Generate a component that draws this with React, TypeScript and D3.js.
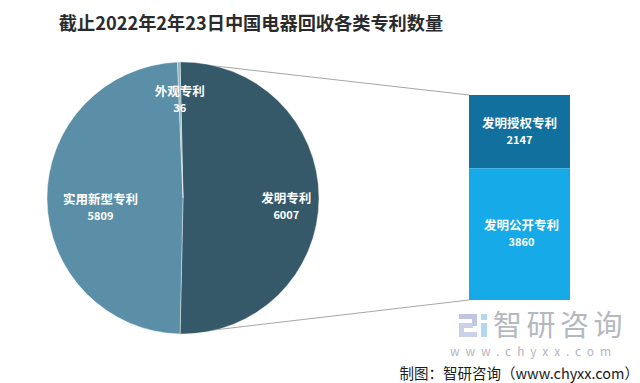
import React from "react";
import * as d3 from "d3";

const pieCategories = ["发明专利", "实用新型专利", "外观专利"];
const pieValues = [6007, 5809, 36];
const barCategories = ["发明授权专利", "发明公开专利"];
const barValues = [2147, 3860];
const title = "截止2022年2年23日中国电器回收各类专利数量";
const source = "制图：智研咨询（www.chyxx.com）";

const W = 640;
const H = 383;
const FONT = "'Noto Sans CJK SC', 'Noto Sans', sans-serif";

export default function App() {
  const cx = 183;
  const cy = 198;
  const r = 136;
  const total = d3.sum(pieValues);
  const firstAngle = (2 * Math.PI * pieValues[0]) / total;
  const start = Math.PI / 2 - firstAngle / 2;
  const pie = d3
    .pie<number>()
    .sort(null)
    .value((d) => d)
    .startAngle(start)
    .endAngle(start + 2 * Math.PI);
  const arcs = pie(pieValues);
  const arcGen = d3.arc<d3.PieArcDatum<number>>().innerRadius(0).outerRadius(r);
  const pieColors = ["#36596a", "#5b8fa7", "#8db3c4"];
  const labelR = [0.76, 0.68, 0.79];

  const barX0 = 469;
  const barX1 = 570;
  const barTop = 95;
  const barBottom = 300;
  const y = d3.scaleLinear().domain([0, d3.sum(barValues)]).range([barTop, barBottom]);
  const barColors = ["#12709e", "#16aae8"];
  let acc = 0;
  const bars = barValues.map((v, i) => {
    const y0 = y(acc);
    acc += v;
    const y1 = y(acc);
    return { v, i, y0, y1 };
  });

  const a0 = arcs[0].startAngle;
  const a1 = arcs[0].endAngle;
  const p0 = [cx + r * Math.sin(a0), cy - r * Math.cos(a0)];
  const p1 = [cx + r * Math.sin(a1), cy - r * Math.cos(a1)];

  return (
    <svg
      width={W}
      height={H}
      style={{ position: "absolute", left: 0, top: 0, background: "#fff" }}
      fontFamily={FONT}
    >
      <rect width={W} height={H} fill="#ffffff" />
      <text x={251} y={30} textAnchor="middle" fontSize={18.2} fontWeight="bold" fill="#2b2b2b">
        {title}
      </text>

      <line x1={p0[0]} y1={p0[1]} x2={barX0} y2={barTop} stroke="#a6a6a6" strokeWidth={1} />
      <line x1={p1[0]} y1={p1[1]} x2={barX0} y2={barBottom} stroke="#a6a6a6" strokeWidth={1} />

      <g transform={`translate(${cx},${cy})`}>
        {arcs.map((a, i) => (
          <path key={i} d={arcGen(a) || ""} fill={pieColors[i]} stroke="#ffffff" strokeWidth={0.4} />
        ))}
        {arcs.map((a, i) => {
          const mid = (a.startAngle + a.endAngle) / 2;
          const R = r * labelR[i];
          const lx = R * Math.sin(mid) + (i === 1 ? 10 : 0);
          const ly = -R * Math.cos(mid);
          return (
            <g key={"l" + i} fill="#ffffff" fontWeight="bold" textAnchor="middle">
              <text x={lx} y={ly + 5} fontSize={12.5}>
                {pieCategories[i]}
              </text>
              <text x={lx} y={ly + 21} fontSize={11}>
                {pieValues[i]}
              </text>
            </g>
          );
        })}
      </g>

      {bars.map((b) => (
        <g key={b.i}>
          <rect x={barX0} y={b.y0} width={barX1 - barX0} height={b.y1 - b.y0} fill={barColors[b.i]} />
          <text
            x={(barX0 + barX1) / 2 + (b.i === 1 ? 2 : 0)}
            y={(b.y0 + b.y1) / 2 - 4}
            textAnchor="middle"
            fontSize={12.5}
            fontWeight="bold"
            fill="#ffffff"
          >
            {barCategories[b.i]}
          </text>
          <text
            x={(barX0 + barX1) / 2 + (b.i === 1 ? 2 : 0)}
            y={(b.y0 + b.y1) / 2 + 12}
            textAnchor="middle"
            fontSize={11}
            fontWeight="bold"
            fill="#ffffff"
          >
            {b.v}
          </text>
        </g>
      ))}

      <g opacity={0.9}>
        <rect x={459} y={314} width={18} height={5} fill="#b9bfe0" />
        <rect x={472} y={314} width={5} height={12} fill="#b9bfe0" />
        <rect x={459} y={323} width={14} height={5} fill="#c6cde6" />
        <rect x={459} y={323} width={5} height={14} fill="#c6cde6" />
        <rect x={459} y={332} width={18} height={5} fill="#c6cde6" />
        <rect x={481} y={314} width={6} height={6} fill="#a9d4ef" />
        <rect x={481} y={323} width={6} height={14} fill="#a9d4ef" />
      </g>
      <text x={493} y={336} fontSize={29} fill="#b4b8bf" letterSpacing={4.5}>
        智研咨询
      </text>
      <text x={450} y={356} fontSize={12} fill="#b4b8bf" letterSpacing={5.9}>
        www.chyxx.com
      </text>
      <text x={639} y={379} fontSize={14.5} fill="#1a1a1a" textAnchor="end">
        {source}
      </text>
    </svg>
  );
}
